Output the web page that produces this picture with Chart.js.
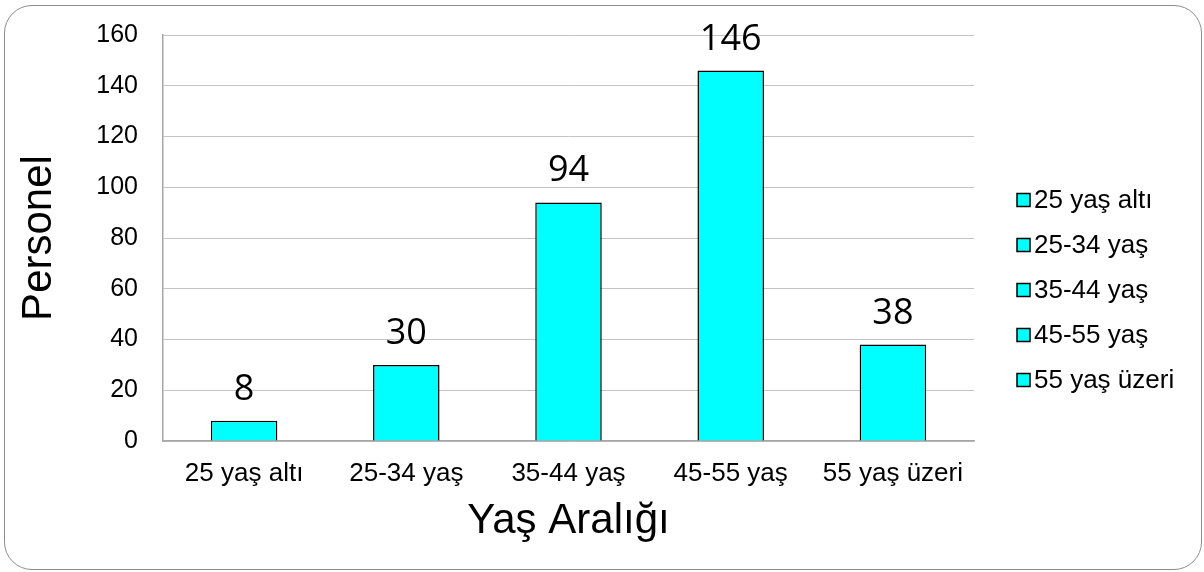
<!DOCTYPE html>
<html>
<head>
<meta charset="utf-8">
<script src="https://cdn.jsdelivr.net/npm/chart.js@4"></script>
<style>
    html, body { margin: 0; padding: 0; background: #fff; }
    #wrap { position: relative; width: 1204px; height: 572px; }
    #frame {
        position: absolute; left: 4px; top: 5px; width: 1198px; height: 565px;
        box-sizing: border-box; border: 1.5px solid #8c8c8c; border-radius: 28px;
        pointer-events: none;
    }
</style>
</head>
<body>
<div id="wrap">
    <canvas id="age-chart" width="1204" height="572"></canvas>
    <div id="frame"></div>
</div>
<script>
const ageGroups = ['25 yaş altı', '25-34 yaş', '35-44 yaş', '45-55 yaş', '55 yaş üzeri'];
const staffCounts = [8, 30, 94, 146, 38];
const yTicks = [0, 20, 40, 60, 80, 100, 120, 140, 160];

const barColor = '#00ffff';
const labelFont = '"Liberation Sans", Arial, sans-serif';

// value labels above each bar
const valueLabels = {
    id: 'valueLabels',
    afterDatasetsDraw(chart) {
        const ctx = chart.ctx;
        const meta = chart.getDatasetMeta(0);
        ctx.save();
        ctx.font = '36px "Open Sans", sans-serif';
        ctx.fillStyle = '#000';
        ctx.textAlign = 'center';
        ctx.textBaseline = 'alphabetic';
        meta.data.forEach((bar, i) => {
            ctx.fillText(String(staffCounts[i]), bar.x, bar.y - 21);
        });
        ctx.restore();
    }
};

// legend on the right, one entry per category
const sideLegend = {
    id: 'sideLegend',
    afterDraw(chart) {
        const ctx = chart.ctx;
        const x = chart.chartArea.right + 43;
        ctx.save();
        ctx.font = '26px ' + labelFont;
        ctx.textBaseline = 'middle';
        ctx.textAlign = 'left';
        ageGroups.forEach((name, i) => {
            const y = 200 + i * 45;
            ctx.fillStyle = barColor;
            ctx.fillRect(x, y - 6.5, 13, 13);
            ctx.strokeStyle = '#000';
            ctx.lineWidth = 1.5;
            ctx.strokeRect(x, y - 6.5, 13, 13);
            ctx.fillStyle = '#000';
            ctx.fillText(name, x + 17, y + 1);
        });
        ctx.restore();
    }
};

const ctx = document.getElementById('age-chart').getContext('2d');
const ageChart = new Chart(ctx, {
    type: 'bar',
    data: {
        labels: ageGroups,
        datasets: [{
            label: 'Personel',
            data: staffCounts,
            backgroundColor: barColor,
            borderColor: '#000',
            borderWidth: 1.5,
            barPercentage: 0.41,
            categoryPercentage: 1
        }]
    },
    options: {
        responsive: false,
        animation: false,
        devicePixelRatio: 1,
        layout: {
            padding: { left: 0, top: 30, right: 230, bottom: 0 }
        },
        plugins: {
            legend: { display: false },
            tooltip: { enabled: false }
        },
        scales: {
            x: {
                grid: { display: false, drawTicks: false },
                border: { display: true, color: '#a6a6a6', width: 1.5 },
                ticks: {
                    color: '#000',
                    font: { family: labelFont, size: 26 },
                    padding: 17,
                    maxRotation: 0,
                    autoSkip: false
                },
                title: {
                    display: true,
                    text: 'Yaş Aralığı',
                    color: '#000',
                    font: { family: labelFont, size: 42 },
                    padding: { top: 0, bottom: 25 }
                },
                afterFit(scale) {
                    scale.height = 131;
                }
            },
            y: {
                min: 0,
                max: 160,
                grid: { color: '#c4c4c4', lineWidth: 1, drawTicks: false },
                border: { display: true, color: '#a6a6a6', width: 1.5 },
                afterBuildTicks(scale) {
                    scale.ticks = yTicks.map(v => ({ value: v }));
                },
                ticks: {
                    color: '#000',
                    font: { family: labelFont, size: 25, lineHeight: 0.8 },
                    padding: 25
                },
                title: {
                    display: true,
                    text: 'Personel',
                    color: '#000',
                    font: { family: labelFont, size: 42 },
                    padding: { top: 14, bottom: 0 }
                },
                afterFit(scale) {
                    scale.width = 163;
                }
            }
        }
    },
    plugins: [valueLabels, sideLegend]
});
</script>
</body>
</html>
